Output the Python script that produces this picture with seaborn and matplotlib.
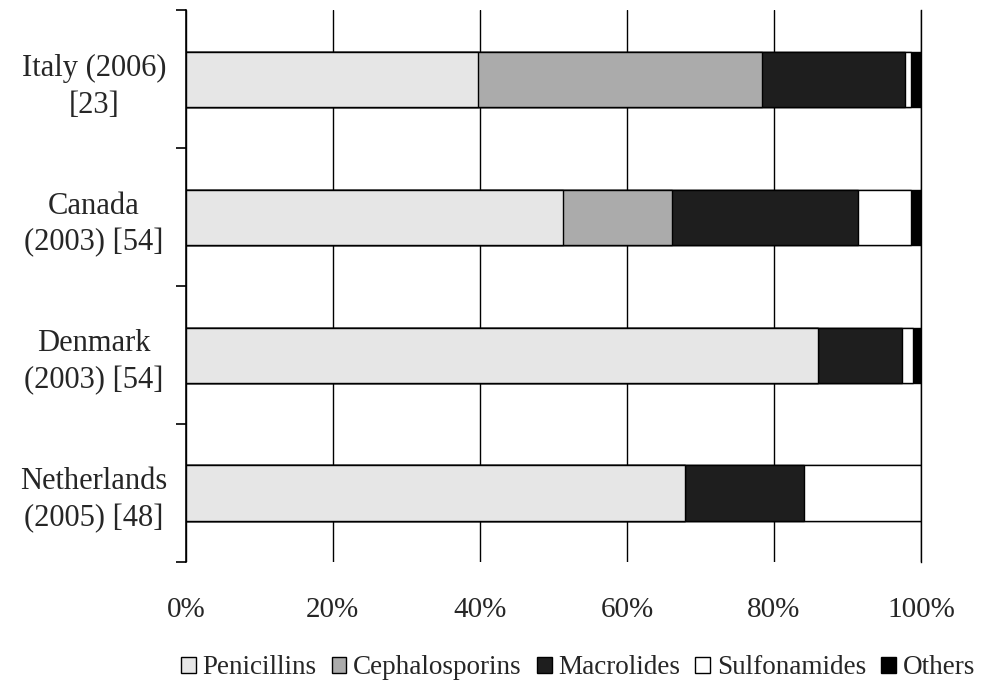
import matplotlib
matplotlib.use("Agg")
import matplotlib.pyplot as plt
import seaborn as sns
import pandas as pd
import numpy as np
from matplotlib.patches import Patch

countries = ["Italy (2006)\n[23]", "Canada\n(2003) [54]", "Denmark\n(2003) [54]", "Netherlands\n(2005) [48]"]
classes = ["Penicillins", "Cephalosporins", "Macrolides", "Sulfonamides", "Others"]
penicillins = [39.7, 51.3, 86.0, 67.9]
cephalosporins = [38.7, 14.8, 0.0, 0.0]
macrolides = [19.4, 25.3, 11.4, 16.2]
sulfonamides = [0.8, 7.2, 1.5, 15.9]
others = [1.4, 1.4, 1.1, 0.0]
colors = ["#e6e6e6", "#ababab", "#1e1e1e", "#ffffff", "#000000"]

sns.set_theme(style="white")
plt.rcParams["font.family"] = ["Liberation Serif", "DejaVu Serif"]

df = pd.DataFrame({"country": countries, "Penicillins": penicillins,
                   "Cephalosporins": cephalosporins, "Macrolides": macrolides,
                   "Sulfonamides": sulfonamides, "Others": others})
cum = df[classes].cumsum(axis=1)
cum = cum.div(cum["Others"], axis=0) * 100

fig = plt.figure(figsize=(9.83, 6.92), dpi=100)
ax = fig.add_axes([0.189, 0.188, 0.748, 0.797])

for cls, col in reversed(list(zip(classes, colors))):
    sns.barplot(x=cum[cls], y=df["country"], orient="h", color=col, width=0.4,
                edgecolor="black", linewidth=1.0, ax=ax, saturation=1)

ax.set_xlim(0, 100)
ax.set_ylim(3.5, -0.5)
ax.set_xlabel("")
ax.set_ylabel("")
ax.set_xticks([0, 20, 40, 60, 80, 100])
ax.set_xticklabels(["0%", "20%", "40%", "60%", "80%", "100%"], fontsize=21)
ax.xaxis.grid(True, color="black", linewidth=1.0)
ax.set_axisbelow(True)
ax.tick_params(axis="x", length=0, pad=25)

ax.set_yticks([-0.5, 0.5, 1.5, 2.5, 3.5])
ax.set_yticklabels([])
ax.set_yticks(range(4), minor=True)
ax.set_yticklabels(countries, minor=True, fontsize=22, ha="center", linespacing=1.35)
ax.tick_params(axis="y", which="major", length=7, width=1.2, color="black", direction="out", left=True)
ax.tick_params(axis="y", which="minor", length=0, pad=66, left=False)

for s in ["top", "bottom"]:
    ax.spines[s].set_visible(False)
ax.spines["left"].set_color("black")
ax.spines["left"].set_linewidth(1.2)
ax.spines["right"].set_color("black")
ax.spines["right"].set_linewidth(1.0)

handles = [Patch(facecolor=c, edgecolor="black", linewidth=1.0, label=l) for l, c in zip(classes, colors)]
fig.legend(handles=handles, loc="center", bbox_to_anchor=(0.588, 0.035), ncol=5,
           frameon=False, fontsize=19.5, handlelength=0.55, handleheight=0.55,
           handletextpad=0.25, columnspacing=0.55, borderpad=0.1)

fig.savefig("out.png", dpi=100)
